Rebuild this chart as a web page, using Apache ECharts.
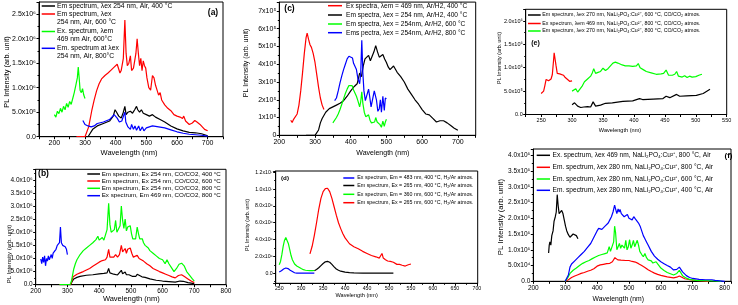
<!DOCTYPE html>
<html>
<head>
<meta charset="utf-8">
<script src="https://cdn.jsdelivr.net/npm/echarts@6/dist/echarts.min.js"></script>
<style>
  html, body { margin: 0; padding: 0; background: #fff; }
  #main { width: 738px; height: 305px; }
</style>
</head>
<body>
<div id="main"></div>
<script>
// ---- (a) Air, values in 1e6 ----
var aEm400 = [[300,0],[310,0],[315,0.05],[325,0.15],[340,0.22],[360,0.27],[380,0.32],[392,0.42],[398,0.55],[403,0.5],[410,0.42],[418,0.38],[425,0.5],[430,0.62],[434,0.45],[440,0.5],[448,0.52],[455,0.48],[462,0.55],[468,0.62],[472,0.55],[478,0.5],[484,0.55],[490,0.48],[495,0.52],[500,0.45],[510,0.42],[520,0.45],[530,0.4],[545,0.35],[560,0.3],[580,0.22],[600,0.16],[620,0.12],[640,0.09],[660,0.08],[680,0.06],[700,0.02]];
var aEm600 = [[272,0],[300,0],[305,0.03],[312,0.2],[322,0.53],[330,0.75],[338,0.94],[346,1.08],[354,1.18],[365,1.25],[375,1.3],[385,1.36],[395,1.42],[400,1.46],[405,1.48],[410,1.45],[414,1.3],[418,1.35],[425,1.6],[430,2.38],[434,1.7],[438,1.45],[443,1.5],[448,1.65],[452,1.35],[458,1.4],[462,1.55],[466,1.7],[470,2.0],[474,1.7],[478,1.45],[482,1.6],[486,1.35],[490,1.55],[494,1.45],[498,1.4],[502,1.2],[508,1.0],[514,0.95],[520,1.25],[525,1.2],[530,1.05],[535,0.95],[540,0.85],[545,0.9],[550,0.75],[560,0.65],[570,0.58],[580,0.53],[590,0.45],[600,0.42],[610,0.4],[618,0.37],[622,0.42],[628,0.32],[640,0.25],[650,0.28],[658,0.33],[665,0.3],[675,0.25],[690,0.15],[700,0.12]];
var aEx600 = [[200,0.45],[205,0.4],[210,0.52],[215,0.47],[220,0.58],[225,0.5],[230,0.62],[235,0.55],[240,0.68],[245,0.6],[250,0.72],[255,0.66],[260,0.78],[265,0.9],[270,1.05],[275,1.2],[278,1.42],[281,1.2],[284,0.95],[288,0.9],[292,0.98],[296,0.85],[300,0.78]];
var aEm800 = [[293,0.33],[300,0.25],[310,0.22],[320,0.2],[330,0.22],[340,0.27],[360,0.3],[380,0.35],[395,0.45],[405,0.38],[412,0.3],[420,0.32],[427,0.45],[430,0.5],[433,0.3],[440,0.2],[448,0.15],[452,0.25],[458,0.15],[463,0.22],[468,0.13],[475,0.22],[480,0.12],[487,0.2],[492,0.12],[500,0.18],[510,0.2],[520,0.22],[540,0.2],[560,0.18],[580,0.14],[600,0.1],[620,0.07],[640,0.05],[660,0.04],[680,0.03],[700,0.01]];

// ---- (c) Ar/H2, values in 1e5 ----
var cEx400 = [[232,0.85],[236,0.72],[240,0.9],[245,1.0],[250,1.2],[255,1.7],[260,2.5],[265,3.5],[270,4.6],[275,5.5],[278,5.75],[282,5.4],[286,5.1],[290,4.95],[295,4.6],[300,4.1],[305,3.4],[310,2.7],[315,2.1],[320,1.7],[325,1.45]];
var cEm400 = [[275,0],[300,0],[305,0.05],[310,0.3],[315,0.7],[320,0.95],[330,1.3],[340,1.5],[350,1.6],[360,1.7],[370,1.8],[380,1.95],[390,2.2],[400,2.5],[410,2.75],[418,2.9],[425,3.5],[430,3.3],[435,3.9],[440,4.3],[445,4.4],[450,4.5],[455,4.2],[460,4.45],[465,4.7],[470,5.05],[475,4.7],[480,4.4],[485,4.5],[490,4.55],[495,4.3],[500,4.1],[505,3.85],[510,3.7],[515,3.75],[520,3.9],[525,3.8],[530,3.55],[540,3.3],[550,3.0],[560,2.6],[570,2.3],[580,2.0],[590,1.75],[600,1.45],[610,1.2],[620,1.15],[630,0.95],[640,0.75],[650,0.82],[660,0.82],[670,0.7],[680,0.55],[690,0.4],[700,0.28]];
var cEm600 = [[350,0.7],[355,0.8],[360,1.0],[365,1.2],[370,1.45],[375,1.75],[380,2.05],[385,2.35],[390,2.6],[395,2.8],[400,2.9],[404,2.8],[408,2.55],[412,2.6],[416,2.2],[420,1.95],[425,1.6],[428,1.9],[431,2.45],[434,1.8],[438,1.3],[442,1.05],[446,0.95],[450,1.15],[454,0.85],[458,0.7],[463,0.65],[467,0.75],[470,1.0],[474,0.75],[478,0.8],[482,0.6],[486,0.45],[490,0.8],[494,0.5],[497,0.75],[500,0.9]];
var cEm800 = [[355,1.95],[360,2.1],[365,2.5],[370,2.95],[375,3.35],[380,3.7],[385,4.0],[390,4.3],[395,4.45],[400,4.55],[405,4.35],[408,4.05],[412,4.15],[416,3.7],[420,3.2],[425,2.9],[428,3.5],[431,5.35],[434,3.5],[437,2.5],[441,1.95],[446,1.85],[450,2.6],[453,2.2],[457,1.6],[462,1.55],[466,2.5],[469,2.6],[472,2.0],[476,1.35],[480,1.5],[483,2.0],[486,1.3],[490,2.2],[494,1.4],[497,2.1],[500,2.05]];

// ---- (e) CO/CO2, values in 1e6 ----
var eEm600 = [[300,0.21],[304,0.25],[309,0.18],[314,0.15],[319,0.16],[325,0.17],[330,0.16],[334,0.27],[338,0.18],[346,0.2],[354,0.24],[365,0.25],[382,0.28],[398,0.29],[409,0.34],[414,0.32],[431,0.33],[447,0.34],[452,0.39],[458,0.36],[469,0.43],[474,0.39],[485,0.4],[501,0.41],[512,0.45],[523,0.54]];
var eEx800 = [[250,0.45],[252,0.43],[254,0.5],[256,0.62],[258,0.75],[260,0.78],[262,0.72],[264,0.7],[266,0.76],[268,0.85],[270,1.15],[271,1.32],[272,1.3],[274,1.05],[276,0.88],[278,0.84],[280,0.87],[283,0.89],[286,0.84],[289,0.79],[292,0.75],[296,0.71],[300,0.72]];
var eEm800 = [[300,0.5],[303,0.52],[306,0.55],[309,0.48],[312,0.5],[316,0.6],[320,0.7],[325,0.76],[330,0.82],[333,0.9],[335,0.98],[338,0.88],[342,0.9],[346,0.92],[350,0.99],[354,0.94],[358,0.98],[362,1.04],[366,1.1],[370,1.12],[374,1.1],[377,1.12],[381,1.06],[386,1.04],[392,1.04],[398,1.03],[404,1.04],[407,1.09],[410,1.0],[415,0.96],[420,0.92],[428,0.89],[436,0.86],[444,0.87],[448,0.88],[452,0.95],[456,0.84],[462,0.84],[466,0.86],[469,0.92],[472,0.82],[478,0.8],[482,0.83],[486,0.79],[490,0.82],[494,0.8],[500,0.81],[505,0.84],[510,0.86]];

// ---- (b) CO/CO2, values in 1e6 ----
var bEm400 = [[275,0],[310,0],[315,0.12],[320,0.22],[330,0.28],[340,0.32],[360,0.36],[380,0.38],[400,0.41],[415,0.43],[425,0.45],[430,0.62],[434,0.45],[440,0.38],[446,0.4],[452,0.45],[458,0.37],[464,0.4],[470,0.55],[474,0.42],[478,0.38],[482,0.48],[486,0.38],[490,0.42],[494,0.38],[498,0.45],[504,0.32],[510,0.3],[516,0.32],[520,0.4],[526,0.33],[535,0.3],[545,0.28],[560,0.22],[580,0.17],[600,0.14],[620,0.12],[640,0.1],[655,0.14],[665,0.13],[680,0.08],[700,0.04]];
var bEm600 = [[275,0],[310,0],[314,0.15],[318,0.3],[322,0.35],[330,0.4],[340,0.45],[350,0.5],[360,0.56],[370,0.62],[380,0.7],[390,0.78],[400,0.86],[410,0.92],[420,0.95],[425,1.05],[430,1.35],[434,1.05],[440,1.0],[446,1.05],[452,1.15],[458,1.05],[464,1.15],[470,1.5],[474,1.25],[478,1.2],[482,1.38],[486,1.2],[490,1.35],[494,1.3],[498,1.4],[503,1.2],[508,1.05],[514,1.0],[520,1.12],[526,1.0],[532,0.95],[540,0.9],[550,0.8],[560,0.72],[570,0.62],[580,0.56],[590,0.5],[600,0.45],[610,0.4],[620,0.35],[630,0.3],[640,0.26],[650,0.35],[660,0.38],[670,0.3],[680,0.22],[690,0.14],[700,0.08]];
var bEm800 = [[275,0],[300,0],[308,0],[312,0.1],[316,0.35],[320,0.6],[325,0.8],[330,0.95],[340,1.15],[350,1.3],[360,1.4],[370,1.5],[380,1.6],[390,1.72],[396,1.85],[400,1.7],[405,1.65],[410,1.8],[415,1.7],[420,1.9],[425,2.1],[430,3.1],[434,2.3],[438,2.0],[443,1.95],[448,2.1],[452,2.45],[456,2.0],[461,1.95],[466,2.25],[470,3.0],[474,2.45],[478,2.15],[482,2.5],[486,2.05],[490,2.2],[494,2.15],[498,2.25],[502,1.95],[506,1.75],[510,1.7],[515,1.75],[520,2.2],[524,1.95],[528,1.75],[532,1.8],[536,1.75],[540,1.6],[545,1.5],[550,1.5],[555,1.4],[560,1.3],[570,1.2],[580,1.1],[590,1.0],[600,0.95],[608,0.8],[614,0.95],[620,0.8],[628,0.65],[636,0.5],[644,0.62],[652,0.78],[660,0.82],[668,0.72],[676,0.5],[686,0.35],[694,0.22],[700,0.14]];
var bEx800 = [[216,0.98],[219,0.8],[222,1.05],[225,0.85],[228,1.1],[231,0.72],[234,1.0],[237,0.9],[240,1.1],[243,0.95],[246,1.05],[249,1.15],[252,1.0],[255,1.2],[258,1.25],[261,1.15],[264,1.35],[268,1.5],[272,1.45],[275,1.6],[278,2.2],[281,1.6],[285,1.5],[289,1.55],[293,1.45],[297,1.35],[300,1.15]];

// ---- (d) H2/Ar, values in 1e6 ----
var dEx400 = [[250,0.15],[255,0.3],[260,0.5],[265,0.62],[270,0.55],[275,0.35],[280,0.2],[285,0.05],[290,0],[300,0],[310,0],[320,0],[330,0]];
var dEm400 = [[330,0.3],[335,0.45],[340,0.65],[345,0.9],[350,1.15],[355,1.35],[360,1.4],[365,1.3],[370,1.05],[375,0.75],[380,0.5],[385,0.35],[390,0.24],[400,0.12],[410,0.06],[420,0.03],[440,0],[460,0],[480,0],[510,0]];
var dEx600 = [[250,1.0],[253,1.4],[256,2.2],[259,3.2],[262,3.9],[265,4.25],[268,4.1],[271,3.5],[274,2.8],[277,2.1],[280,1.6],[285,1.1],[290,0.85],[295,0.7],[300,0.55],[305,0.42],[310,0.35],[315,0.32],[320,0.3],[325,0.3],[330,0.32]];
var dEm600 = [[320,2.3],[325,3.2],[330,4.5],[335,6.0],[340,7.6],[345,8.9],[350,9.7],[355,10.05],[360,10.1],[365,9.7],[370,8.9],[375,7.9],[380,6.9],[385,6.0],[390,5.3],[395,4.7],[400,4.2],[410,3.5],[420,3.15],[430,2.9],[440,2.6],[450,2.35],[460,2.1],[470,1.95],[478,1.8],[482,1.95],[484,2.35],[487,1.8],[492,1.6],[497,1.45],[503,1.4],[510,1.3],[518,1.05],[524,1.05],[530,0.95],[537,0.85],[544,1.0],[550,1.1]];

// ---- (f) Air, values in 1e5 ----
var fEx800 = [[248,0.9],[250,1.15],[252,1.25],[255,1.15],[258,1.45],[262,1.6],[265,1.9],[269,2.05],[272,2.2],[275,2.75],[278,2.4],[281,2.15],[285,2.2],[289,2.25],[293,2.15],[297,1.95],[301,1.75],[305,1.6],[310,1.48],[315,1.4],[320,1.42],[325,1.5],[330,1.48],[335,1.45],[340,1.35]];
var fEm800 = [[300,0],[310,0.05],[320,0.12],[330,0.17],[340,0.21],[350,0.25],[360,0.28],[370,0.32],[380,0.35],[390,0.4],[400,0.48],[410,0.52],[420,0.54],[430,0.56],[440,0.57],[448,0.62],[452,0.66],[456,0.75],[460,0.7],[465,0.68],[470,0.7],[475,0.67],[480,0.68],[490,0.66],[500,0.66],[510,0.63],[520,0.61],[530,0.56],[540,0.5],[550,0.44],[560,0.37],[570,0.31],[580,0.26],[590,0.22],[600,0.19],[620,0.14],[640,0.11],[650,0.13],[658,0.17],[664,0.12],[675,0.08],[690,0.05],[710,0.03],[730,0.01],[750,0]];
var fEm600 = [[300,0],[305,0.05],[310,0.15],[315,0.25],[325,0.35],[335,0.42],[345,0.5],[355,0.57],[365,0.62],[375,0.66],[385,0.72],[395,0.77],[405,0.82],[415,0.85],[425,0.88],[432,0.9],[438,1.1],[442,0.95],[448,0.95],[452,1.25],[455,1.75],[458,1.55],[462,1.0],[466,1.1],[470,1.2],[474,1.05],[478,1.15],[482,1.2],[486,1.05],[490,1.3],[494,1.0],[498,1.1],[502,1.32],[506,1.05],[510,1.15],[514,1.3],[518,1.1],[522,1.05],[526,1.3],[530,1.15],[534,0.95],[540,0.85],[545,0.78],[550,0.88],[555,0.75],[560,0.68],[565,0.72],[570,0.65],[575,0.58],[580,0.55],[585,0.62],[590,0.55],[600,0.42],[610,0.34],[620,0.28],[630,0.24],[640,0.2],[650,0.25],[658,0.35],[662,0.3],[668,0.18],[680,0.1],[690,0.06],[710,0.03],[740,0.02],[770,0.01],[790,0]];
var fEm400 = [[300,0],[305,0.05],[310,0.2],[315,0.45],[320,0.55],[330,0.65],[340,0.75],[350,0.85],[360,0.95],[370,1.08],[380,1.2],[390,1.4],[400,1.6],[405,1.68],[410,1.62],[415,1.65],[420,1.7],[425,1.75],[430,1.72],[435,1.85],[440,1.95],[445,2.05],[450,2.2],[455,2.42],[458,2.3],[462,2.15],[466,2.3],[469,2.2],[472,2.28],[476,2.15],[480,2.18],[485,2.05],[490,2.08],[495,2.12],[500,2.0],[505,2.05],[510,1.95],[515,2.05],[520,1.98],[525,2.02],[530,1.85],[535,1.75],[540,1.6],[545,1.45],[550,1.35],[555,1.25],[560,1.15],[570,0.95],[580,0.8],[590,0.7],[600,0.62],[610,0.56],[620,0.5],[630,0.45],[640,0.36],[650,0.38],[658,0.45],[662,0.42],[668,0.3],[680,0.18],[690,0.12],[700,0.09],[720,0.06],[740,0.05],[760,0.05],[770,0.03],[800,0]];

var BLACK = '#000000', RED = '#ff0000', GREEN = '#00ff00', BLUE = '#0000ff';
var FONT = '"Liberation Sans", Arial, sans-serif';

var panels = [
  // a
  { left: 39, top: 2, width: 184, height: 134.7, xmin: 150, xmax: 750, xint: 50, xstep: 100, xlo: 200, xhi: 700,
    ymin: 0, ymax: 2.75, yint: 0.5, ystep: 0.5, pow: 6, dec: true, fs: 7 },
  // c
  { left: 279.3, top: 2.1, width: 196.4, height: 133.2, xmin: 200, xmax: 750, xint: 50, xstep: 100, xlo: 200, xhi: 700,
    ymin: 0, ymax: 7.5, yint: 1, ystep: 1, pow: 5, dec: false, fs: 7 },
  // e
  { left: 525.7, top: 9.3, width: 201, height: 105.2, xmin: 225, xmax: 550, xint: 25, xstep: 50, xlo: 250, xhi: 550,
    ymin: 0, ymax: 2.25, yint: 0.5, ystep: 0.5, pow: 6, dec: true, fs: 5.5 },
  // b
  { left: 35.7, top: 169.3, width: 190.3, height: 115.4, xmin: 200, xmax: 800, xint: 50, xstep: 100, xlo: 200, xhi: 800,
    ymin: 0, ymax: 4.4, yint: 0.5, ystep: 0.5, pow: 6, dec: true, fs: 6.5 },
  // d  (no interval: ticks picked by echarts from splitNumber)
  { left: 275.7, top: 171, width: 202, height: 112.3, xmin: 242, xmax: 702, xsplit: 9, xstep: 50, xlo: 250, xhi: 700,
    ymin: -1.2, ymax: 12.15, ysplit: 6, ystep: 2, pow: 6, dec: true, fs: 5.2 },
  // f
  { left: 533.3, top: 149, width: 197.7, height: 132.3, xmin: 200, xmax: 820, xint: 50, xstep: 100, xlo: 200, xhi: 800,
    ymin: 0, ymax: 4.2, yint: 0.5, ystep: 0.5, pow: 5, dec: true, fs: 6.5 }
];

var SUP = { '0': '⁰', '1': '¹', '2': '²', '3': '³', '4': '⁴', '5': '⁵', '6': '⁶', '7': '⁷', '8': '⁸', '9': '⁹', '-': '⁻' };
function sup(n) {
  return String(n).split('').map(function (c) { return SUP[c]; }).join('');
}
function onStep(v, step) {
  return Math.abs(v / step - Math.round(v / step)) < 1e-6;
}
// y labels like 2.5x10⁶
function yFormatter(p) {
  return function (v) {
    if (!onStep(v, p.ystep) || v < 0) return '';
    if (Math.abs(v) < 1e-9) return p.dec ? '0.0' : '0';
    var real = v * Math.pow(10, p.pow);
    var e = Math.floor(Math.log10(real) + 1e-9);
    var m = real / Math.pow(10, e);
    return (p.dec ? m.toFixed(1) : Math.round(m)) + 'x10' + sup(e);
  };
}
function xFormatter(p) {
  return function (v) {
    if (!onStep(v, p.xstep) || v < p.xlo - 1e-6 || v > p.xhi + 1e-6) return '';
    return String(Math.round(v));
  };
}

var grids = [], xAxes = [], yAxes = [];
panels.forEach(function (p, i) {
  grids.push({ left: p.left, top: p.top, width: p.width, height: p.height, show: true,
    borderColor: '#000', borderWidth: 1, backgroundColor: 'transparent', outerBoundsMode: 'none', containLabel: false });
  var xa = { type: 'value', gridIndex: i, min: p.xmin, max: p.xmax,
    axisLine: { show: true, onZero: false, lineStyle: { color: '#000', width: 1 } },
    axisTick: { show: true, length: 2.5, lineStyle: { color: '#000' } },
    axisLabel: { show: true, margin: 3, color: '#000', fontSize: p.fs, fontFamily: FONT,
      formatter: xFormatter(p), showMinLabel: true, showMaxLabel: true, hideOverlap: false },
    splitLine: { show: false } };
  if (p.xint) xa.interval = p.xint; else { xa.splitNumber = p.xsplit; xa.minorTick = { show: true, splitNumber: 2, length: 1.5, lineStyle: { color: '#000' } }; }
  xAxes.push(xa);
  var ya = { type: 'value', gridIndex: i, min: p.ymin, max: p.ymax,
    axisLine: { show: true, onZero: false, lineStyle: { color: '#000', width: 1 } },
    axisTick: { show: true, length: 2.5, lineStyle: { color: '#000' } },
    minorTick: { show: true, splitNumber: 2, length: 1.5, lineStyle: { color: '#000' } },
    axisLabel: { show: true, margin: 3, color: '#000', fontSize: p.fs, fontFamily: FONT,
      formatter: yFormatter(p), showMinLabel: true, showMaxLabel: true, hideOverlap: false },
    splitLine: { show: false } };
  if (p.yint) ya.interval = p.yint; else ya.splitNumber = p.ysplit;
  yAxes.push(ya);
});

function line(name, idx, data, color) {
  return { name: name, type: 'line', xAxisIndex: idx, yAxisIndex: idx, data: data,
    symbol: 'none', showSymbol: false, animation: false, silent: true,
    lineStyle: { color: color, width: 1.2 }, itemStyle: { color: color } };
}

// legends: [panel texts], drawn as graphic swatches + text
var legends = [
  { x1: 41.7, x2: 55, tx: 57, fs: 6.8, rows: [
    [6, BLACK, 'Em spectrum, λex 254 nm, Air, 400 °C'],
    [14, RED, 'Em spectrum, λex'], [22.5, null, '254 nm, Air, 600 °C'],
    [31.5, GREEN, 'Ex. spectrum, λem'], [39.5, null, '469 nm Air, 600°C'],
    [48.3, BLUE, 'Em. spectrum at λex'], [56.3, null, '254 nm, Air, 800°C'] ] },
  { x1: 328, x2: 342, tx: 346, fs: 6.6, rows: [
    [5.7, RED, 'Ex spectra, λem = 469 nm, Ar/H2, 400 °C'],
    [15, BLACK, 'Em spectra, λex = 254 nm, Ar/H2, 400 °C'],
    [24, GREEN, 'Em spectra, λex = 254nm, Ar/H2, 600 °C'],
    [32.7, BLUE, 'Ems pectra, λex = 254nm, Ar/H2, 800 °C'] ] },
  { x1: 528, x2: 540.7, tx: 542.3, fs: 5.3, rows: [
    [15, BLACK, 'Em spectrum, λex 270 nm, NaLi₂PO₄:Cu²⁺, 600 °C, CO/CO₂ atmos.'],
    [23.5, RED, 'Ex spectrum, λem 469 nm, NaLi₂PO₄:Cu²⁺, 800 °C, CO/CO₂ atmos.'],
    [31, GREEN, 'Em spectrum, λex 270 nm, NaLi₂PO₄:Cu²⁺, 800 °C, CO/CO₂ atmos.'] ] },
  { x1: 87.3, x2: 100, tx: 101.7, fs: 6.2, rows: [
    [174, BLACK, 'Em spectrum, Ex 254 nm, CO/CO2, 400 °C'],
    [181, RED, 'Em spectrum, Ex 254 nm, CO/CO2, 600 °C'],
    [188.3, GREEN, 'Em spectrum, Ex 254 nm, CO/CO2, 800 °C'],
    [195.7, BLUE, 'Ex spectrum, Em 469 nm, CO/CO2, 800 °C'] ] },
  { x1: 343.3, x2: 354.3, tx: 357.3, fs: 5.3, rows: [
    [178, BLUE, 'Ex spectrum, Em = 483 nm, 400 °C, H₂/Ar atmos.'],
    [185.5, BLACK, 'Em spectrum, Ex = 265 nm, 400 °C, H₂/Ar atmos.'],
    [194.3, GREEN, 'Ex spectrum, Em = 360 nm, 600 °C, H₂/Ar atmos.'],
    [202.7, RED, 'Em spectrum, Ex = 265 nm, 600 °C, H₂/Ar atmos.'] ] },
  { x1: 536.7, x2: 550, tx: 552.5, fs: 6.6, rows: [
    [155.3, BLACK, 'Ex. spectrum, λex 469 nm, NaLi₂PO₄:Cu²⁺, 800 °C, Air'],
    [167.3, RED, 'Em. spectrum, λex 280 nm, NaLi₂PO₄:Cu²⁺, 800 °C, Air'],
    [179, GREEN, 'Em. spectrum, λex 280 nm, NaLi₂PO₄:Cu²⁺, 600 °C, Air'],
    [190.3, BLUE, 'Em. spectrum, λex 280 nm, NaLi₂PO₄:Cu²⁺, 400 °C, Air'] ] }
];

function txt(x, y, s, size, opts) {
  opts = opts || {};
  var align = opts.align || 'left';
  return { type: 'text', x: x, y: y, rotation: opts.rot || 0, silent: true, z: 10,
    style: { text: s, fill: '#000', font: (opts.bold ? 'bold ' : '') + size + 'px ' + FONT,
      align: align, textAlign: align, verticalAlign: 'middle', textVerticalAlign: 'middle' } };
}

var graphics = [];
legends.forEach(function (lg) {
  lg.rows.forEach(function (r) {
    if (r[1]) graphics.push({ type: 'line', silent: true, z: 10,
      shape: { x1: lg.x1, y1: r[0], x2: lg.x2, y2: r[0] }, style: { stroke: r[1], lineWidth: 1.5 } });
    graphics.push(txt(lg.tx, r[0], r[2], lg.fs));
  });
});

// panel tags
graphics.push(txt(213, 12.3, '(a)', 8.5, { bold: true, align: 'center' }));
graphics.push(txt(289.5, 9, '(c)', 8.5, { bold: true, align: 'center' }));
graphics.push(txt(535.5, 43.3, '(e)', 7, { bold: true, align: 'center' }));
graphics.push(txt(43.5, 174, '(b)', 8.5, { bold: true, align: 'center' }));
graphics.push(txt(285, 178.7, '(d)', 6.2, { bold: true, align: 'center' }));
graphics.push(txt(728.5, 156, '(f)', 8, { bold: true, align: 'center' }));

// axis titles
var ROT = Math.PI / 2;
graphics.push(txt(129, 153.3, 'Wavelength (nm)', 7.5, { align: 'center' }));
graphics.push(txt(382.8, 152.7, 'Wavelength (nm)', 7, { align: 'center' }));
graphics.push(txt(620, 130, 'Wavelength (nm)', 5.6, { align: 'center' }));
graphics.push(txt(131.3, 299.3, 'Wavelength (nm)', 7.5, { align: 'center' }));
graphics.push(txt(356.7, 295.7, 'Wavelength (nm)', 5.6, { align: 'center' }));
graphics.push(txt(618.3, 299.3, 'Wavelength (nm)', 6.8, { align: 'center' }));
graphics.push(txt(6.5, 72, 'PL Intensity (arb. unit)', 7.3, { align: 'center', rot: ROT }));
graphics.push(txt(246, 63, 'PL Intensity (arb. unit)', 7, { align: 'center', rot: ROT }));
graphics.push(txt(499.5, 58, 'PL Intensity (arb. unit)', 5.3, { align: 'center', rot: ROT }));
graphics.push(txt(9, 254, 'PL Intensity (arb. unit)', 6, { align: 'center', rot: ROT }));
graphics.push(txt(248, 225, 'PL Intensity (arb. unit)', 5.3, { align: 'center', rot: ROT }));
graphics.push(txt(500.5, 217, 'PL Intensity (arb. unit)', 7.8, { align: 'center', rot: ROT }));

var chart = echarts.init(document.getElementById('main'), null, { renderer: 'canvas' });
chart.setOption({
  animation: false,
  backgroundColor: '#fff',
  grid: grids,
  xAxis: xAxes,
  yAxis: yAxes,
  graphic: graphics,
  series: [
    line('a Em 400', 0, aEm400, BLACK), line('a Em 600', 0, aEm600, RED),
    line('a Ex 600', 0, aEx600, GREEN), line('a Em 800', 0, aEm800, BLUE),
    line('c Ex 400', 1, cEx400, RED), line('c Em 400', 1, cEm400, BLACK),
    line('c Em 600', 1, cEm600, GREEN), line('c Em 800', 1, cEm800, BLUE),
    line('e Em 600', 2, eEm600, BLACK), line('e Ex 800', 2, eEx800, RED), line('e Em 800', 2, eEm800, GREEN),
    line('b Em 400', 3, bEm400, BLACK), line('b Em 600', 3, bEm600, RED),
    line('b Em 800', 3, bEm800, GREEN), line('b Ex 800', 3, bEx800, BLUE),
    line('d Ex 400', 4, dEx400, BLUE), line('d Em 400', 4, dEm400, BLACK),
    line('d Ex 600', 4, dEx600, GREEN), line('d Em 600', 4, dEm600, RED),
    line('f Ex 800', 5, fEx800, BLACK), line('f Em 800', 5, fEm800, RED),
    line('f Em 600', 5, fEm600, GREEN), line('f Em 400', 5, fEm400, BLUE)
  ]
});
</script>
</body>
</html>
